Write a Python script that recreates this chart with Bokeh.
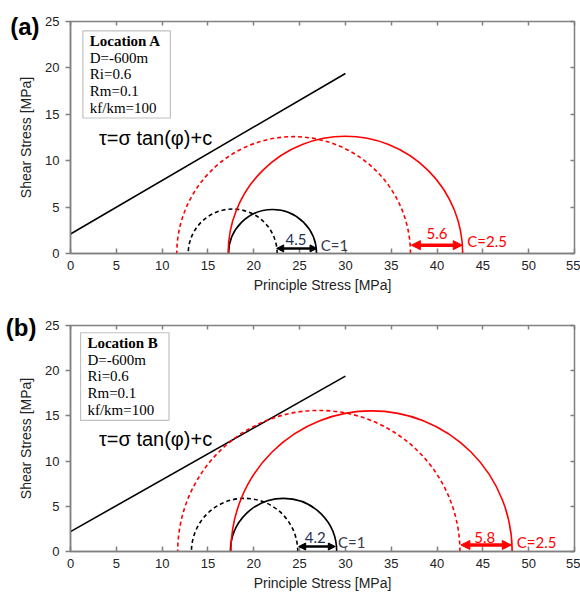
from bokeh.plotting import figure
from bokeh.models import (Label, BoxAnnotation, Arrow, NormalHead, LinearAxis,
                          Range1d, FixedTicker)
from bokeh.layouts import column
from bokeh.embed import file_html
from bokeh.resources import INLINE

# ---------------- data ----------------
x_ticks = [0, 5, 10, 15, 20, 25, 30, 35, 40, 45, 50, 55]
y_ticks = [0, 5, 10, 15, 20, 25]

# failure envelope tau = sigma*tan(phi)+c
line_x = [0, 30]
line_a_y = [2.1, 19.4]
line_b_y = [2.2, 19.4]

# Mohr circles: centre, radius  (a)
a_black_dash = (17.7, 4.85)
a_black_solid = (22.05, 4.8)
a_red_dash = (24.35, 12.75)
a_red_solid = (30.0, 12.8)
# (b)
b_black_dash = (19.0, 5.8)
b_black_solid = (23.25, 5.8)
b_red_dash = (27.1, 15.4)
b_red_solid = (32.85, 15.35)

# shift arrows: x_start, x_end, y
a_black_arrow = (22.5, 26.9, 0.55)
a_red_arrow = (37.2, 42.75, 0.9)
b_black_arrow = (24.9, 28.9, 0.55)
b_red_arrow = (42.6, 48.1, 0.72)

a_shift_labels = ["4.5", "5.6"]
b_shift_labels = ["4.2", "5.8"]
cohesion_labels = ["C=1", "C=2.5"]

legend_a = ["Location A", "D=-600m", "Ri=0.6", "Rm=0.1", "kf/km=100"]
legend_b = ["Location B", "D=-600m", "Ri=0.6", "Rm=0.1", "kf/km=100"]

GRAY = "#808080"
TXT = "#222222"


def make_panel(tag, tag_y, tag_standoff, title_standoff, height, borders, line_y,
               circles, arrows, shift_labels, shift_pos, coh_pos, legend, legend_box):
    bl, br, bt, bb = borders
    p = figure(width=580, height=height, output_backend="svg", toolbar_location=None,
               x_range=Range1d(0, 55), y_range=Range1d(0, 25),
               min_border_left=bl, min_border_right=br, min_border_top=bt,
               min_border_bottom=bb)
    p.xgrid.visible = False
    p.ygrid.visible = False
    p.outline_line_color = GRAY
    p.outline_line_width = 1.5
    p.background_fill_color = "white"
    p.border_fill_color = "white"

    xa = p.xaxis[0]
    xa.ticker = FixedTicker(ticks=x_ticks)
    xa.axis_label = "Principle Stress [MPa]"
    ya = p.yaxis[0]
    ya.ticker = FixedTicker(ticks=y_ticks)
    for ax in (xa, ya):
        ax.axis_line_color = GRAY
        ax.axis_line_width = 1.5
        ax.major_tick_line_color = GRAY
        ax.major_tick_line_width = 1.5
        ax.minor_tick_line_color = None
        ax.major_label_text_font = "Liberation Sans"
        ax.major_label_text_font_size = "13px"
        ax.major_label_text_color = TXT
        ax.axis_label_text_font = "Liberation Sans"
        ax.axis_label_text_font_size = "14px"
        ax.axis_label_text_font_style = "normal"
        ax.axis_label_text_color = TXT
    xa.major_tick_in = 5
    xa.major_tick_out = 0
    xa.major_label_standoff = 7
    xa.axis_label_standoff = 4
    ya.major_tick_in = 0
    ya.major_tick_out = 5
    ya.major_label_standoff = 6

    # outer left axis: carries the panel tag as its only tick label and the y title
    tag_axis = LinearAxis(ticker=FixedTicker(ticks=[tag_y]),
                          major_label_overrides={tag_y: tag},
                          axis_label="Shear Stress [MPa]")
    tag_axis.axis_line_color = None
    tag_axis.major_tick_line_color = None
    tag_axis.minor_tick_line_color = None
    tag_axis.major_tick_in = 0
    tag_axis.major_tick_out = 0
    tag_axis.major_label_standoff = tag_standoff
    tag_axis.major_label_text_font = "Liberation Sans"
    tag_axis.major_label_text_font_size = "24px"
    tag_axis.major_label_text_font_style = "bold"
    tag_axis.major_label_text_color = "black"
    tag_axis.axis_label_text_font = "Liberation Sans"
    tag_axis.axis_label_text_font_size = "14px"
    tag_axis.axis_label_text_font_style = "normal"
    tag_axis.axis_label_text_color = TXT
    tag_axis.axis_label_standoff = title_standoff
    p.add_layout(tag_axis, "left")

    # mirror ticks (no labels) on top and right
    top = LinearAxis(ticker=FixedTicker(ticks=x_ticks),
                     major_label_overrides={t: "" for t in x_ticks})
    right = LinearAxis(ticker=FixedTicker(ticks=y_ticks),
                       major_label_overrides={t: "" for t in y_ticks})
    for ax in (top, right):
        ax.axis_line_color = None
        ax.major_tick_line_color = GRAY
        ax.major_tick_line_width = 1.5
        ax.major_tick_in = 4
        ax.major_tick_out = 0
        ax.minor_tick_line_color = None
        ax.major_label_text_font_size = "1px"
        ax.major_label_standoff = 0
    p.add_layout(top, "above")
    p.add_layout(right, "right")

    # failure envelope
    p.line(line_x, line_y, line_color="black", line_width=1.6)

    # Mohr circles
    styles = [("black", "4 3"), ("black", "solid"), ("red", "4 3"), ("red", "solid")]
    for (cx, r), (col, dash) in zip(circles, styles):
        p.arc(x=[cx], y=[0], radius=r, start_angle=0, end_angle=3.14159265,
              line_color=col, line_width=1.6, line_dash=dash)

    # arrows
    for (xs, xe, yy), col, lw, hs in zip(arrows, ["black", "red"], [2.5, 3.5], [7, 9]):
        p.add_layout(Arrow(x_start=xs, y_start=yy, x_end=xe, y_end=yy,
                           line_color=col, line_width=lw,
                           start=NormalHead(size=hs, fill_color=col, line_color=col),
                           end=NormalHead(size=hs, fill_color=col, line_color=col)))

    shift_cols = ["#1f2f55", "red"]
    for txt, (tx, ty), col in zip(shift_labels, shift_pos, shift_cols):
        p.add_layout(Label(x=tx, y=ty, text=txt, text_align="center",
                           text_baseline="middle", text_font="Lato",
                           text_font_size="15px", text_color=col))
    coh_cols = ["#3a3a4a", "red"]
    for txt, (tx, ty), col in zip(cohesion_labels, coh_pos, coh_cols):
        p.add_layout(Label(x=tx, y=ty, text=txt, text_align="left",
                           text_baseline="middle", text_font="Lato",
                           text_font_size="15px", text_color=col))

    # equation
    p.add_layout(Label(x=3.1, y=12.4, text="τ=σ tan(φ)+c", text_align="left",
                       text_baseline="middle", text_font="Liberation Sans",
                       text_font_size="20px", text_color="black"))

    # legend box
    lx0, lx1, ly0, ly1 = legend_box
    p.add_layout(BoxAnnotation(left=lx0, right=lx1, bottom=ly0, top=ly1,
                               fill_color="white", fill_alpha=1.0,
                               line_color="#333333", line_width=1.2))
    step = (ly1 - ly0) / 5.25
    for i, t in enumerate(legend):
        p.add_layout(Label(x=lx0 + 0.75, y=ly1 - step * (i + 0.62), text=t,
                           text_align="left", text_baseline="middle",
                           text_font="Liberation Serif", text_font_size="15px",
                           text_font_style="bold" if i == 0 else "normal",
                           text_color="black"))
    return p


pa = make_panel("(a)", 24.45, 3, -27, 300, (67, 5, 21, 47), line_a_y,
                [a_black_dash, a_black_solid, a_red_dash, a_red_solid],
                [a_black_arrow, a_red_arrow], a_shift_labels,
                [(24.6, 1.55), (40.0, 2.2)], [(27.3, 0.95), (43.3, 1.3)],
                legend_a, (1.35, 10.9, 14.6, 24.0))
pb = make_panel("(b)", 24.8, 6, -31, 299, (70, 6, 25, 48), line_b_y,
                [b_black_dash, b_black_solid, b_red_dash, b_red_solid],
                [b_black_arrow, b_red_arrow], b_shift_labels,
                [(26.7, 1.5), (45.2, 1.55)], [(29.2, 1.0), (48.7, 1.0)],
                legend_b, (1.1, 10.75, 14.5, 24.2))

layout = column(pa, pb, spacing=0)
open("out.html", "w").write(file_html(layout, INLINE))
